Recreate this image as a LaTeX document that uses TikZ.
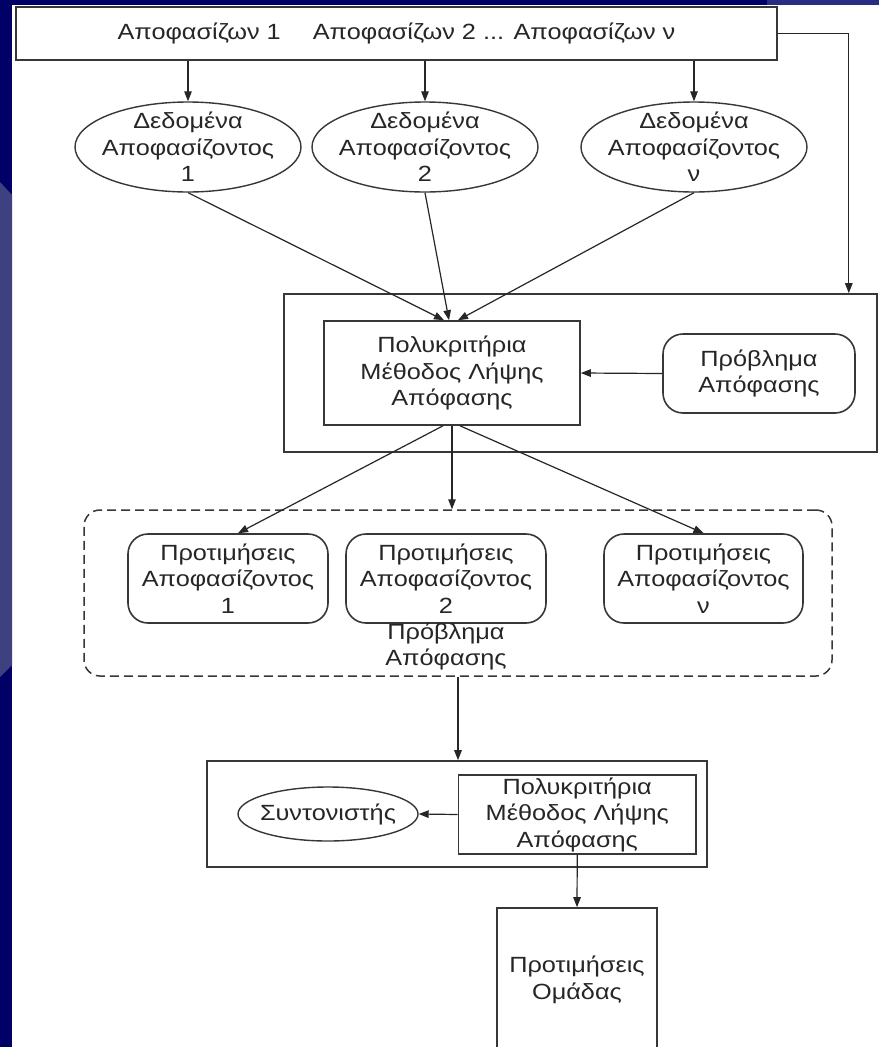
\documentclass[tikz,border=0pt]{standalone}
\usepackage{fontspec}
\setmainfont{Liberation Sans}[FakeStretch=1.15]
\usetikzlibrary{shapes.geometric,arrows.meta}
\definecolor{navy}{RGB}{0,0,102}
\definecolor{lightnavy}{RGB}{62,64,128}
\definecolor{topblue}{RGB}{40,44,130}
\definecolor{ln}{RGB}{55,55,55}
\tikzset{
  txt/.style={font=\fontsize{22}{26.5}\selectfont, align=center, inner sep=0pt, text=black!85},
  bx/.style={txt, draw=ln, line width=1.6pt, rectangle},
  rbx/.style={bx, rounded corners=20pt},
  elp/.style={txt, draw=ln, line width=1.4pt, ellipse, inner xsep=-40pt, inner ysep=-25pt},
  arr/.style={draw=black!85, line width=1.2pt, -{Triangle[length=10pt,width=7.5pt]}},
  dashbox/.style={draw=ln, line width=1.5pt, dash pattern=on 9pt off 5pt, rounded corners=16pt, rectangle, inner sep=0pt}
}
\begin{document}
\begin{tikzpicture}[x=1pt,y=-1pt]
\clip (0,0) rectangle (879,1047);
\fill[white] (0,0) rectangle (879,1047);
\fill[navy] (0,0) rectangle (12,1047);
\fill[navy] (0,0) rectangle (767,5);
\fill[topblue] (767,0) rectangle (879,5);
\fill[lightnavy] (0,182) -- (12,195) -- (12,665) -- (0,677) -- cycle;

% top box
\node[bx, minimum width=761pt, minimum height=53pt] (top) at (396.5,33.5)
  {Αποφασίζων 1\hspace{32pt}Αποφασίζων 2 ... Αποφασίζων ν};

% data ellipses
\node[elp, minimum width=226pt, minimum height=90pt] (d1) at (188,147) {Δεδομένα\\Αποφασίζοντος\\1};
\node[elp, minimum width=226pt, minimum height=90pt] (d2) at (425,147) {Δεδομένα\\Αποφασίζοντος\\2};
\node[elp, minimum width=226pt, minimum height=90pt] (d3) at (694,147) {Δεδομένα\\Αποφασίζοντος\\ν};

% second block
\node[bx, minimum width=593pt, minimum height=158pt] (box2) at (580.5,373) {};
\node[bx, minimum width=256pt, minimum height=104pt] (m1) at (452,373) {Πολυκριτήρια\\Μέθοδος Λήψης\\Απόφασης};
\node[rbx, minimum width=192pt, minimum height=79pt] (pb1) at (759,373.5) {Πρόβλημα\\Απόφασης};

% preferences
\node[dashbox, minimum width=748pt, minimum height=166pt] (dc) at (458,593) {};
\node[rbx, minimum width=200pt, minimum height=89pt] (p1) at (228,578.5) {Προτιμήσεις\\Αποφασίζοντος\\1};
\node[rbx, minimum width=200pt, minimum height=89pt] (p2) at (446,578.5) {Προτιμήσεις\\Αποφασίζοντος\\2};
\node[rbx, minimum width=199pt, minimum height=89pt] (p3) at (703.5,578.5) {Προτιμήσεις\\Αποφασίζοντος\\ν};
\node[txt] (pblab) at (446,646.5) {Πρόβλημα\\Απόφασης};

% third block
\node[bx, minimum width=500pt, minimum height=106pt] (box3) at (457,814) {};
\node[bx, minimum width=237.5pt, minimum height=79pt] (m2) at (577.25,814.5) {Πολυκριτήρια\\Μέθοδος Λήψης\\Απόφασης};
\node[elp, minimum width=180pt, minimum height=54pt] (sy) at (328,814) {Συντονιστής};

% group preferences
\node[bx, minimum width=160pt, minimum height=144pt] (box4) at (577,980) {Προτιμήσεις\\Ομάδας};

% connectors
\draw[arr] (top.south -| d1.north) -- (d1.north);
\draw[arr] (top.south -| d2.north) -- (d2.north);
\draw[arr] (top.south -| d3.north) -- (d3.north);
\draw[arr] (top.east) -| ([xshift=-29pt]box2.north east);

\draw[arr] (d1.south) -- ([xshift=-8pt]m1.north);
\draw[arr] (d2.south) -- ([xshift=-3pt]m1.north);
\draw[arr] (d3.south) -- ([xshift=6pt]m1.north);
\draw[arr] (pb1.west) -- (m1.east);

\draw[arr] ([xshift=-9pt]m1.south) -- ([xshift=10pt]p1.north);
\draw[arr] (m1.south) -- (m1.south |- dc.north);
\draw[arr] ([xshift=8pt]m1.south) -- (p3.north);

\draw[arr] (dc.south) -- (dc.south |- box3.north);
\draw[arr] (m2.west) -- (sy.east);
\draw[arr] (m2.south) -- (box4.north);
\end{tikzpicture}
\end{document}
